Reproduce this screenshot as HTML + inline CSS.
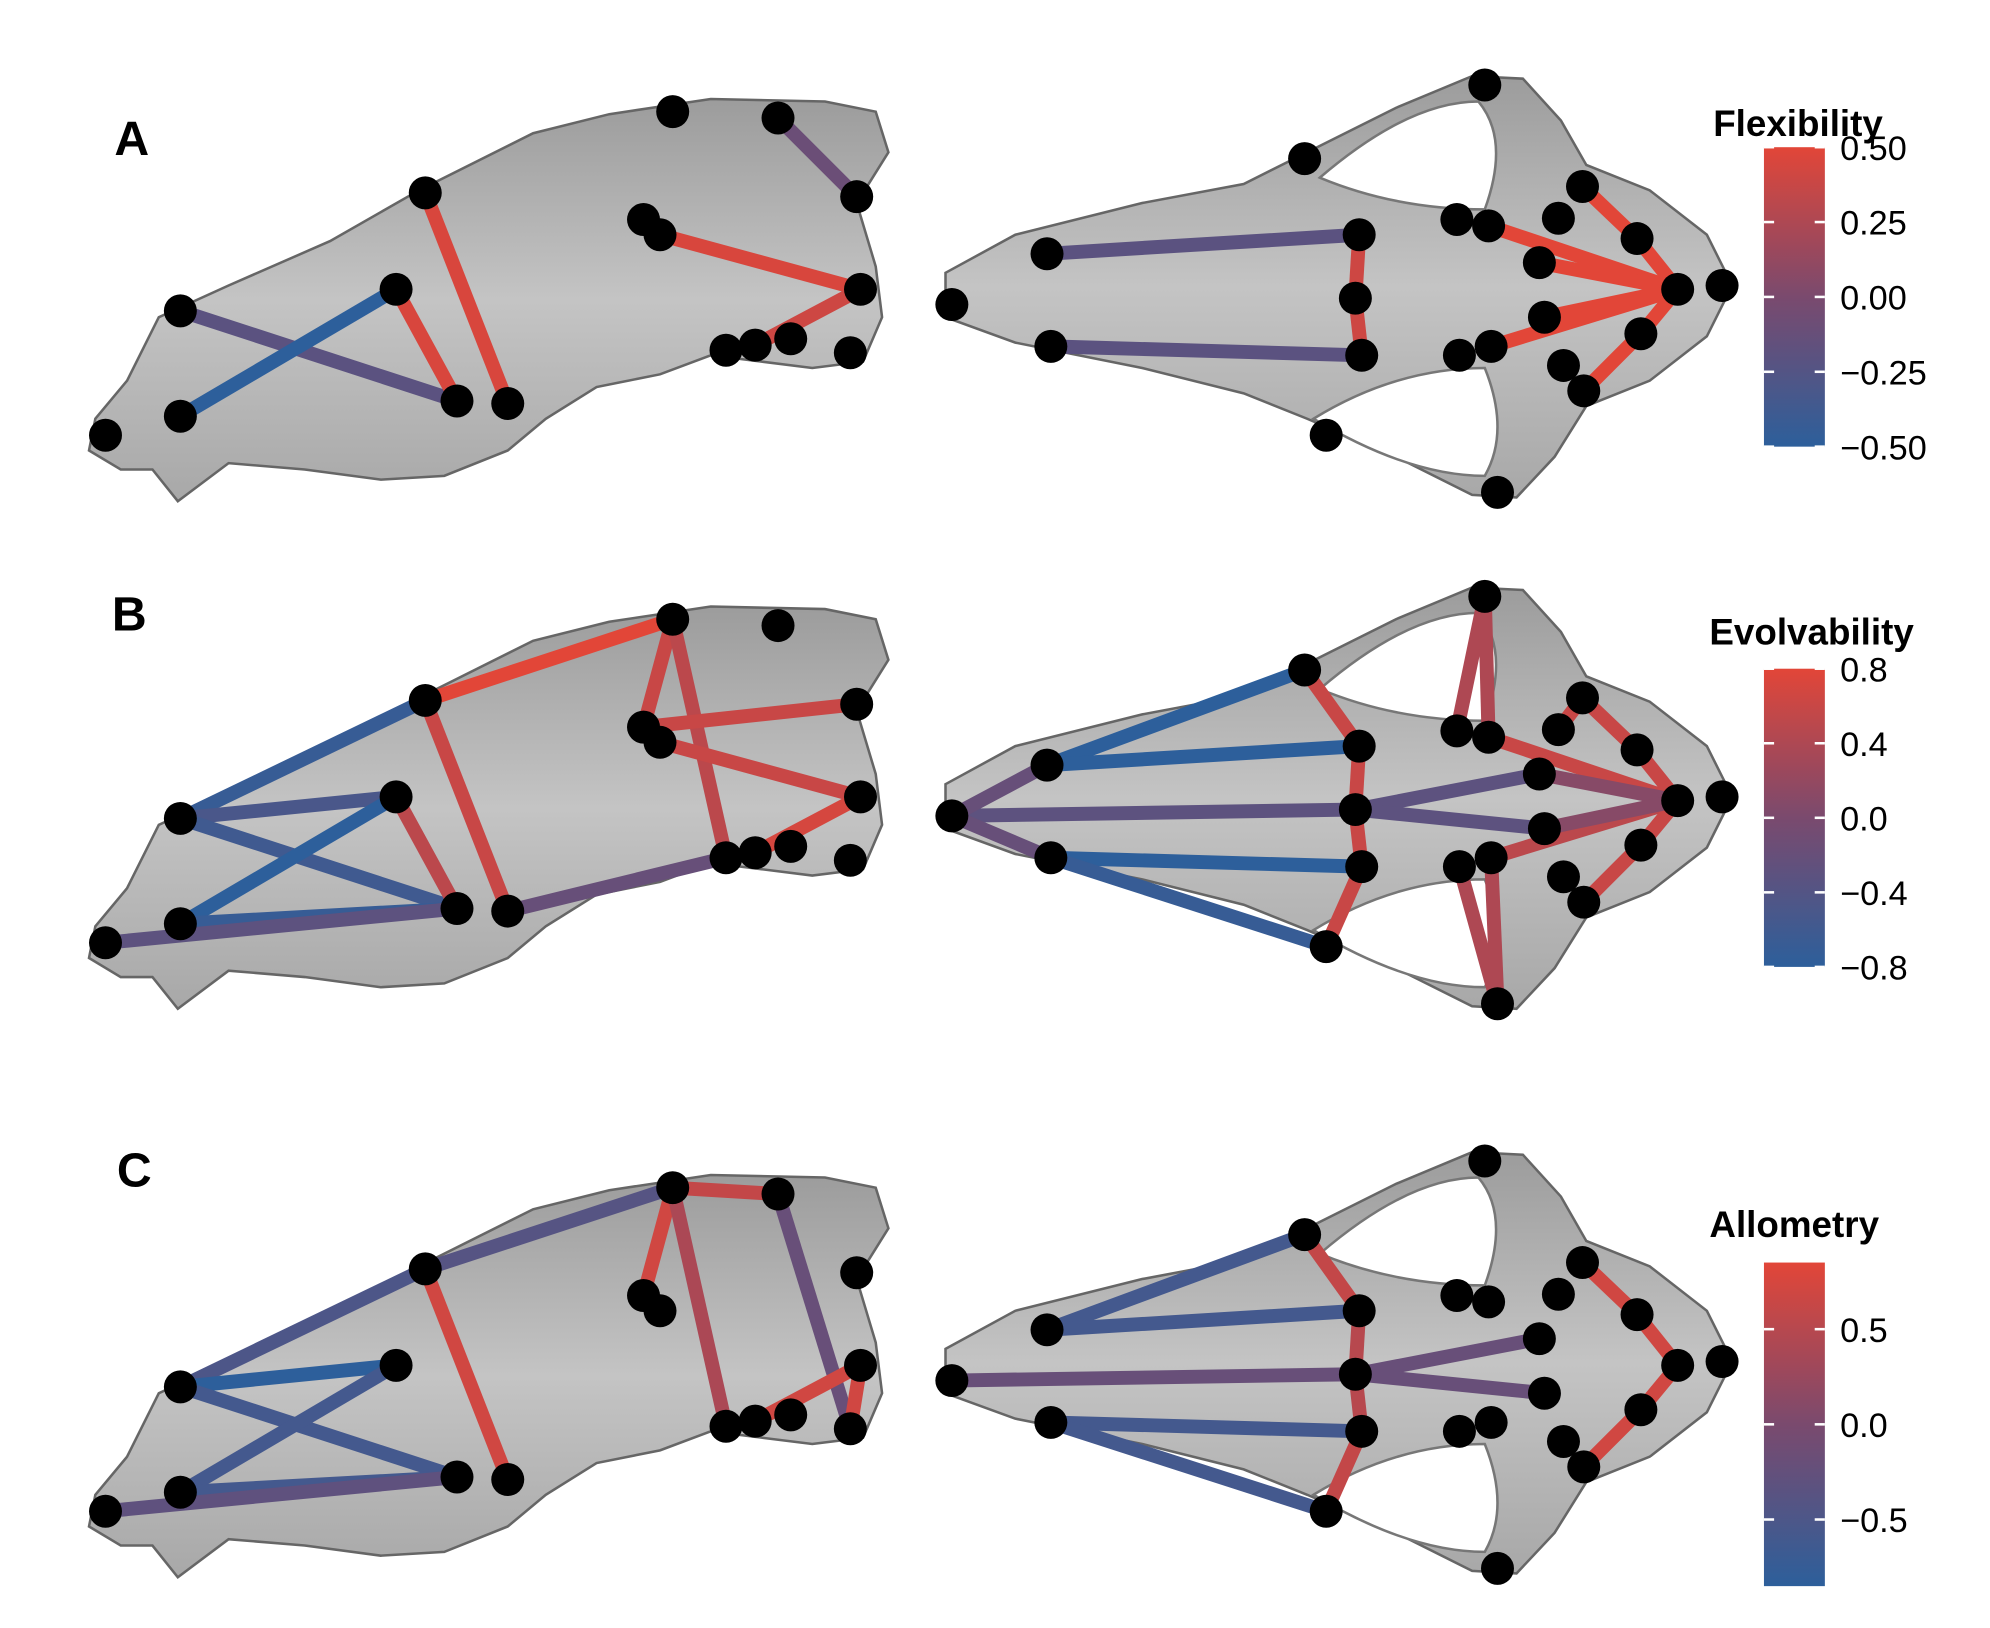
<!DOCTYPE html>
<html><head><meta charset="utf-8"><style>
html,body{margin:0;padding:0;background:#fff;}
svg{display:block;font-family:"Liberation Sans",Arial,sans-serif;}
</style></head><body>
<svg id="fig" width="1990" height="1628" viewBox="0 0 1568 1283" xmlns="http://www.w3.org/2000/svg">
<defs>
<linearGradient id="boneG" x1="0" y1="0" x2="0" y2="1"><stop offset="0" stop-color="#9c9c9c"/><stop offset="0.5" stop-color="#c4c4c4"/><stop offset="1" stop-color="#a8a8a8"/></linearGradient>
</defs>
<g id="skulls"></g><g id="marks"></g><g id="legends"></g>
</svg>
<script>
// Landmark coordinates (panel A frame)
const latPts = [[83,343],[142,245],[142,328],[312,228],[335,152],[360,316],[400,318],[530,88],[613,93],[675,155],[507,173],[520,185],[678,228],[572,276],[595,272],[623,267],[670,278]];
const dorPts = [[1170,67],[1028,125],[825,200],[1071,185],[750,240],[1068,235],[828,273],[1073,280],[1045,343],[1180,388],[1148,173],[1173,178],[1247,147],[1228,172],[1290,188],[1213,207],[1322,228],[1357,225],[1217,250],[1293,263],[1150,280],[1175,273],[1232,288],[1248,308]];
// edges: [from, to, value] (1-based indices)
const latEdgesA = [[2,6,-0.2],[3,4,-0.5],[4,6,0.45],[5,7,0.45],[9,10,-0.1],[12,13,0.45],[13,15,0.4]];
const dorEdgesA = [[3,4,-0.2],[7,8,-0.2],[4,6,0.4],[6,8,0.4],[12,17,0.5],[13,15,0.5],[15,17,0.5],[16,17,0.5],[19,17,0.5],[22,17,0.5],[20,17,0.5],[24,20,0.5]];
const latEdgesB = [[5,8,0.8],[2,5,-0.7],[2,4,-0.5],[2,6,-0.6],[3,4,-0.8],[3,6,-0.7],[1,6,-0.3],[4,6,0.5],[5,7,0.6],[7,14,-0.2],[8,11,0.6],[8,14,0.5],[11,10,0.6],[12,13,0.6],[13,15,0.7]];
const dorEdgesB = [[2,3,-0.8],[3,4,-0.8],[5,6,-0.3],[5,3,-0.2],[5,7,-0.2],[7,8,-0.8],[7,9,-0.7],[2,4,0.6],[4,6,0.6],[6,8,0.6],[8,9,0.6],[6,16,-0.3],[6,19,-0.3],[1,11,0.4],[1,12,0.4],[10,21,0.4],[10,22,0.4],[12,17,0.6],[14,13,0.6],[13,15,0.6],[15,17,0.6],[22,17,0.5],[20,17,0.6],[24,20,0.6],[16,17,0.1],[19,17,0.1]];
const latEdgesC = [[5,8,-0.4],[2,5,-0.5],[2,4,-0.9],[2,6,-0.6],[3,4,-0.6],[3,6,-0.6],[1,6,-0.3],[5,7,0.7],[8,9,0.6],[8,11,0.7],[8,14,0.4],[9,17,-0.2],[15,13,0.7],[13,17,0.7]];
const dorEdgesC = [[2,3,-0.6],[3,4,-0.6],[5,6,-0.2],[7,8,-0.6],[7,9,-0.6],[2,4,0.6],[4,6,0.5],[6,8,0.5],[8,9,0.6],[6,16,-0.2],[6,19,-0.2],[13,15,0.7],[15,17,0.7],[17,20,0.7],[20,24,0.7]];
const panelNames = ["A","B","C"];
const legendTitles = ["Flexibility","Evolvability","Allometry"];
const tickLabelsA = ["0.50","0.25","0.00","\u22120.25","\u22120.50"];
const tickValsA = [0.5,0.25,0,-0.25,-0.5];
const tickLabelsB = ["0.8","0.4","0.0","\u22120.4","\u22120.8"];
const tickValsB = [0.8,0.4,0,-0.4,-0.8];
const tickLabelsC = ["0.5","0.0","\u22120.5"];
const tickValsC = [0.5,0,-0.5];
const domains = [[-0.5,0.5],[-0.8,0.8],[-0.85,0.85]];

const NS="http://www.w3.org/2000/svg";
function mk(tag,attrs,parent){const e=document.createElementNS(NS,tag);for(const k in attrs)e.setAttribute(k,attrs[k]);parent.appendChild(e);return e;}
function lerp(a,b,t){return a+(b-a)*t;}
function colorOf(v,d){let t=(v-d[0])/(d[1]-d[0]);t=Math.max(0,Math.min(1,t));
 const blue=[45,95,155],mid=[122,74,110],red=[226,70,56];let c;
 if(t<0.5){const u=t/0.5;c=blue.map((x,i)=>lerp(x,mid[i],u));}else{const u=(t-0.5)/0.5;c=mid.map((x,i)=>lerp(x,red[i],u));}
 return `rgb(${c.map(Math.round).join(",")})`;}

const skulls=document.getElementById('skulls'),marks=document.getElementById('marks'),legends=document.getElementById('legends');
const offsets=[0,400,848];
const dOffsets=[0,403,848];
const latPath="M70,355 L75,330 L100,300 L125,250 L180,225 L260,190 L330,150 L420,105 L480,90 L560,78 L650,80 L690,88 L700,120 L675,160 L690,210 L695,250 L680,285 L640,290 L600,285 L560,280 L520,295 L470,305 L430,330 L400,355 L350,375 L300,378 L240,370 L180,365 L140,395 L120,370 L95,370 Z";
const dorPath="M745,215 L800,185 L900,160 L980,145 L1030,120 L1100,85 L1160,60 L1200,62 L1230,95 L1250,130 L1300,150 L1345,185 L1365,225 L1345,265 L1300,300 L1250,320 L1225,360 L1195,392 L1160,390 L1100,360 L1030,330 L980,310 L900,290 L800,270 L745,250 Z";
const eyeL="M1040,140 Q1110,80 1165,80 Q1190,110 1170,165 Q1100,165 1040,140 Z";
const eyeR="M1035,330 Q1110,375 1170,375 Q1190,340 1170,290 Q1100,290 1035,330 Z";

function drawPanel(p,latE,dorE){
 const oy=offsets[p],dy=dOffsets[p],d=domains[p];
 const gs=mk('g',{},skulls);
 
 
 const ls=mk('path',{d:latPath,transform:`translate(0,${oy})`,fill:'url(#boneG)',stroke:'#666','stroke-width':2},gs);
 
 
 const ds=mk('path',{d:dorPath,transform:`translate(0,${dy})`,fill:'url(#boneG)',stroke:'#666','stroke-width':2},gs);
 
 
 [eyeL,eyeR].forEach(q=>{const e=mk('path',{d:q,transform:`translate(0,${dy})`,fill:'#fff',stroke:'#777','stroke-width':2},gs);
  
  });
 const gm=mk('g',{},marks);
 
 
 latE.forEach(e=>{const a=latPts[e[0]-1],b=latPts[e[1]-1];
  const l=mk('line',{x1:a[0],y1:a[1]+oy,x2:b[0],y2:b[1]+oy,stroke:colorOf(e[2],d),'stroke-width':11},gm);
  
  });
 dorE.forEach(e=>{const a=dorPts[e[0]-1],b=dorPts[e[1]-1];
  const l=mk('line',{x1:a[0],y1:a[1]+dy,x2:b[0],y2:b[1]+dy,stroke:colorOf(e[2],d),'stroke-width':11},gm);
  
  });
 latPts.forEach(q=>{const c=mk('circle',{cx:q[0],cy:q[1]+oy,r:13,fill:'#000'},gm);
  
  });
 dorPts.forEach(q=>{const c=mk('circle',{cx:q[0],cy:q[1]+dy,r:13,fill:'#000'},gm);
  
  });
}
drawPanel(0,latEdgesA,dorEdgesA);
drawPanel(1,latEdgesB,dorEdgesB);
drawPanel(2,latEdgesC,dorEdgesC);

const letterPos=[[90,122],[88,497],[92,935]];
letterPos.forEach((q,i)=>{const t=mk('text',{x:q[0],y:q[1],'font-size':38,'font-weight':'bold',fill:'#000'},legends);
 t.textContent=panelNames[i];
 
 });

const legBars=[{top:116,bot:352,title:[1350,107]},{top:527,bot:762,title:[1347,508]},{top:995,bot:1250,title:[1347,975]}];
const legTicks=[[tickValsA,tickLabelsA],[tickValsB,tickLabelsB],[tickValsC,tickLabelsC]];
legBars.forEach((L,i)=>{
 const d=domains[i];
 const g=mk('g',{},legends);
 
 
 const gid='cb'+i;const lg=mk('linearGradient',{id:gid,x1:0,y1:1,x2:0,y2:0},g);
 for(let k=0;k<=10;k++){mk('stop',{offset:k/10,'stop-color':colorOf(lerp(d[0],d[1],k/10),d)},lg);}
 const r=mk('rect',{x:1390,y:L.top,width:48,height:L.bot-L.top,fill:`url(#${gid})`},g);
 
 
 const tt=mk('text',{x:L.title[0],y:L.title[1],'font-size':29,'font-weight':'bold',fill:'#000'},g);
 tt.textContent=legendTitles[i];
 
 
 const yOf=v=>L.bot-(v-d[0])/(d[1]-d[0])*(L.bot-L.top);
 legTicks[i][0].forEach((v,k)=>{const y=yOf(v);
  mk('line',{x1:1390,x2:1398,y1:y,y2:y,stroke:'#fff','stroke-width':2},g);
  mk('line',{x1:1430,x2:1438,y1:y,y2:y,stroke:'#fff','stroke-width':2},g);
  const t=mk('text',{x:1450,y:y+10,'font-size':27,fill:'#000'},g);
  t.textContent=legTicks[i][1][k];
  
  });
});
</script>
</body></html>
